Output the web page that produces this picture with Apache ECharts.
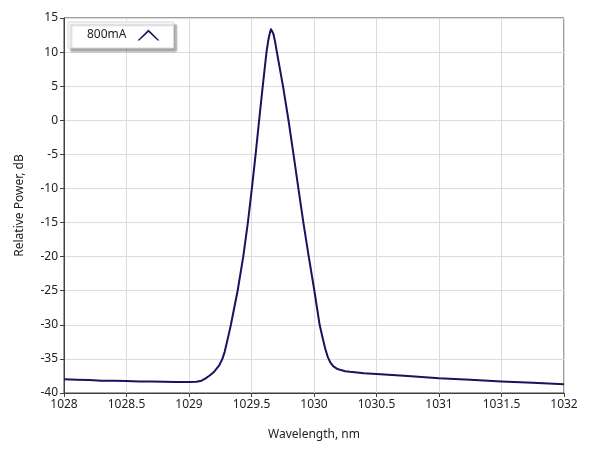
<!DOCTYPE html>
<html>
<head>
<meta charset="utf-8">
<script src="https://cdn.jsdelivr.net/npm/echarts@6/dist/echarts.min.js"></script>
<style>html,body{margin:0;padding:0;background:#fff}#c{width:589px;height:456px}</style>
</head>
<body>
<div id="c"></div>
<script>
var seriesName = '800mA';
var wavelength = [1028.00, 1028.10, 1028.20, 1028.30, 1028.40, 1028.50, 1028.60, 1028.70, 1028.80, 1028.90, 1029.00, 1029.06, 1029.10, 1029.13, 1029.16, 1029.195, 1029.213, 1029.24, 1029.267, 1029.285, 1029.30, 1029.318, 1029.335, 1029.389, 1029.434, 1029.471, 1029.503, 1029.533, 1029.561, 1029.590, 1029.620, 1029.635, 1029.648, 1029.656, 1029.661, 1029.667, 1029.675, 1029.688, 1029.703, 1029.752, 1029.796, 1029.836, 1029.875, 1029.915, 1029.958, 1030.003, 1030.045, 1030.070, 1030.090, 1030.110, 1030.130, 1030.155, 1030.18, 1030.208, 1030.25, 1030.288, 1030.40, 1030.50, 1030.75, 1031.00, 1031.25, 1031.50, 1031.75, 1032.00];
var power = [-38.0, -38.05, -38.1, -38.2, -38.2, -38.25, -38.3, -38.3, -38.35, -38.4, -38.4, -38.35, -38.2, -37.9, -37.5, -37.0, -36.6, -36.0, -35.0, -34.0, -32.8, -31.4, -30.0, -25.0, -20.0, -15.0, -10.0, -5.0, 0.0, 5.0, 10.0, 11.8, 12.9, 13.35, 13.45, 13.3, 12.7, 11.6, 10.0, 5.0, 0.0, -5.0, -10.0, -15.0, -20.0, -25.0, -30.0, -32.0, -33.5, -34.7, -35.5, -36.1, -36.4, -36.6, -36.8, -36.9, -37.1, -37.2, -37.5, -37.85, -38.05, -38.3, -38.5, -38.7];
var xTicks = {min: 1028, max: 1032, interval: 0.5};
var yTicks = {min: -40, max: 15, interval: 5};

var data = wavelength.map(function (x, i) { return [x, power[i]]; });
var font = '"Noto Sans", "Open Sans", sans-serif';
var chart = echarts.init(document.getElementById('c'), null, {renderer: 'canvas'});
chart.setOption({
  animation: false,
  backgroundColor: '#ffffff',
  textStyle: {fontFamily: font},
  grid: {left: 64, right: 25, top: 18, bottom: 63, show: true, borderColor: '#404040', borderWidth: 1, backgroundColor: 'transparent'},
  legend: {
    show: true,
    left: 68, top: 22,
    align: 'right',
    itemWidth: 22, itemHeight: 11,
    padding: [7, 14, 7, 19],
    backgroundColor: '#ffffff',
    borderColor: '#d8d8d8', borderWidth: 1,
    shadowColor: 'rgba(0,0,0,0.35)', shadowBlur: 2, shadowOffsetX: 3, shadowOffsetY: 3,
    textStyle: {fontFamily: font, fontSize: 12, color: '#222', padding: [0, 6, 0, 0]},
    data: [{name: seriesName, icon: 'path://M0,10 L10,0 L20,10 L18.3,10 L10,2.2 L1.7,10 Z', itemStyle: {color: '#15145c'}}]
  },
  xAxis: {
    type: 'value', min: xTicks.min, max: xTicks.max, interval: xTicks.interval,
    name: 'Wavelength, nm', nameLocation: 'middle', nameGap: 36,
    nameTextStyle: {fontFamily: font, fontSize: 12, color: '#222'},
    axisLine: {show: true, onZero: false, lineStyle: {color: '#404040', width: 1}},
    axisTick: {show: true, inside: false, length: 4, lineStyle: {color: '#404040'}},
    axisLabel: {fontFamily: font, fontSize: 12, color: '#222', margin: 6,
      formatter: function (v) { return String(Math.round(v * 10) / 10); }},
    splitLine: {show: true, lineStyle: {color: '#dcdcdc', width: 1}}
  },
  yAxis: {
    type: 'value', min: yTicks.min, max: yTicks.max, interval: yTicks.interval,
    name: 'Relative Power, dB', nameLocation: 'middle', nameGap: 38, nameRotate: 90,
    nameTextStyle: {fontFamily: font, fontSize: 12, color: '#222'},
    axisLine: {show: true, onZero: false, lineStyle: {color: '#404040', width: 1}},
    axisTick: {show: true, inside: false, length: 4, lineStyle: {color: '#404040'}},
    axisLabel: {fontFamily: font, fontSize: 12, color: '#222', margin: 6},
    splitLine: {show: true, lineStyle: {color: '#dcdcdc', width: 1}}
  },
  series: [{
    name: seriesName, type: 'line', data: data, smooth: false, showSymbol: false, symbol: 'none',
    lineStyle: {color: '#15145c', width: 2, join: 'round'}, itemStyle: {color: '#15145c'}
  }]
});
</script>
</body>
</html>
